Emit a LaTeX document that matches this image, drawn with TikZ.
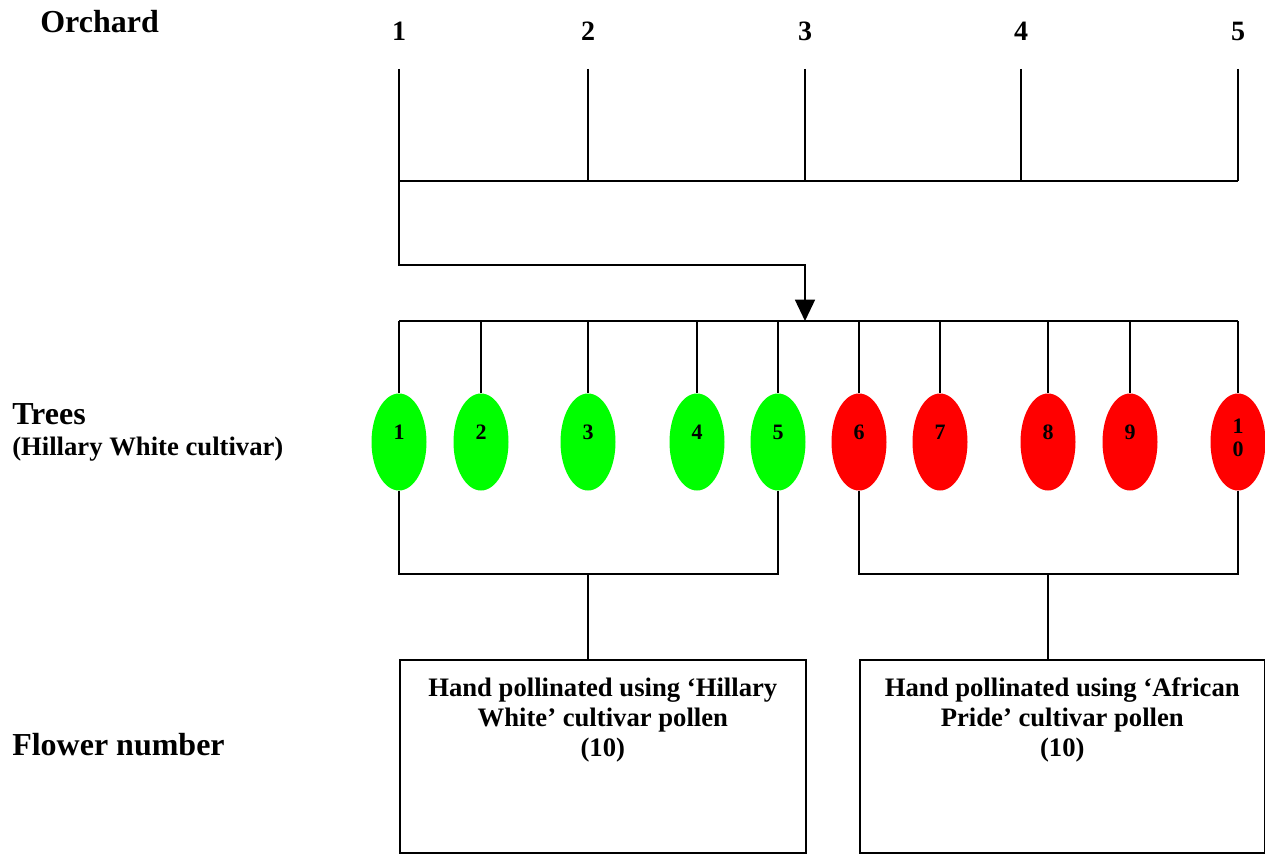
\documentclass[tikz,border=0pt]{standalone}
\usepackage{fontspec}
\setmainfont{Liberation Serif}
\usetikzlibrary{shapes.geometric,arrows.meta}
\definecolor{leafgreen}{RGB}{0,255,0}
\definecolor{budred}{RGB}{255,0,0}
\begin{document}
\begin{tikzpicture}[x=0.75pt,y=-0.75pt,
  conn/.style={line width=1.2pt,black},
  biglabel/.style={font=\fontsize{24}{28}\selectfont\bfseries,anchor=west,inner sep=0pt},
  numlabel/.style={font=\fontsize{21}{24}\selectfont\bfseries,inner sep=0pt},
  sublabel/.style={font=\fontsize{20}{24}\selectfont\bfseries,inner sep=0pt,anchor=west},
  treenode/.style={ellipse,minimum width=41.25pt,minimum height=72.75pt,inner sep=0pt,draw=none},
  treelabel/.style={font=\fontsize{16.5}{16.5}\selectfont\bfseries,align=center,inner sep=0pt},
  greentree/.style={treenode,fill=leafgreen},
  redtree/.style={treenode,fill=budred},
  boxnode/.style={draw,line width=1.2pt,anchor=north west,inner sep=0pt},
  boxtext/.style={font=\fontsize{20}{22.5}\selectfont\bfseries,align=center,anchor=north,inner sep=0pt}]
\useasboundingbox (0,0) rectangle (1265,856);

% left labels
\node[biglabel] (orchard) at (40,22) {Orchard};
\node[biglabel] (trees) at (12,414) {Trees};
\node[sublabel] (cultivar) at (12,449) {(Hillary White cultivar)};
\node[biglabel] (flower) at (12,745) {Flower number};

% orchard numbers
\foreach \i/\x in {1/399,2/588,3/805,4/1021,5/1238}{
  \node[numlabel] (o\i) at (\x,31) {\i};
  \coordinate (ot\i) at (\x,69);
  \coordinate (ob\i) at (\x,181);
  \draw[conn] (ot\i) -- (ob\i);
}
\draw[conn] (ob1) -- (ob5);

% tree bar
\coordinate (barL) at (399,321);
\coordinate (barR) at (1238,321);
\coordinate (barM) at (805,321);
\draw[conn] (barL) -- (barR);
\draw[conn,-{Triangle[width=15pt,length=16pt]}] (ob1) -- (399,265) -| (barM);

% trees
\foreach \i/\x in {1/399,2/481,3/588,4/697,5/778}{
  \node[greentree] (t\i) at (\x,442) {};
  \node[treelabel] (l\i) at (\x,432) {\i};
}
\foreach \i/\x in {6/859,7/940,8/1048,9/1130}{
  \node[redtree] (t\i) at (\x,442) {};
  \node[treelabel] (l\i) at (\x,432) {\i};
}
\node[redtree] (t10) at (1238,442) {};
\node[treelabel] (l10) at (1238,438) {1\\[1pt]0};
\foreach \i in {1,...,10}{
  \draw[conn] (t\i.north) -- (t\i.north |- barL);
}

% group brackets
\coordinate (g1) at (588,574);
\coordinate (g2) at (1048,574);
\draw[conn] (t1.south) -- (t1.south |- g1) -- (t5.south |- g1) -- (t5.south);
\draw[conn] (t6.south) -- (t6.south |- g2) -- (t10.south |- g2) -- (t10.south);

% boxes
\node[boxnode,minimum width=304.5pt,minimum height=144.75pt] (b1) at (399,659) {};
\node[boxnode,minimum width=303.75pt,minimum height=144.75pt] (b2) at (859,659) {};
\draw[conn] (g1) -- (g1 |- b1.north);
\draw[conn] (g2) -- (g2 |- b2.north);
\node[boxtext] (bt1) at ([yshift=-14pt]b1.north) {Hand pollinated using ‘Hillary\\White’ cultivar pollen\\(10)};
\node[boxtext] (bt2) at ([yshift=-14pt]b2.north) {Hand pollinated using ‘African\\Pride’ cultivar pollen\\(10)};
\end{tikzpicture}
\end{document}
